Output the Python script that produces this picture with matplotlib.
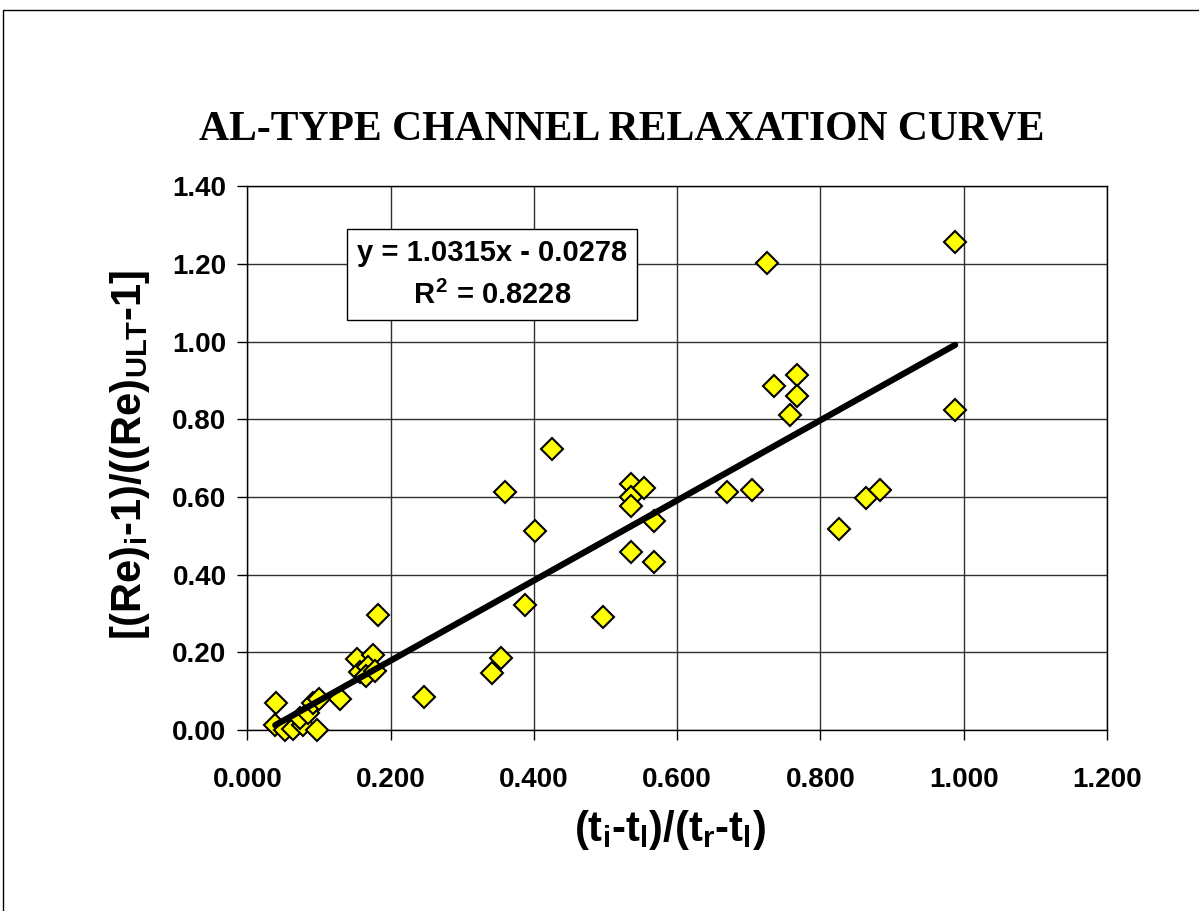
import numpy as np
import matplotlib
matplotlib.use("Agg")
import matplotlib.pyplot as plt
from matplotlib.patches import Rectangle

plt.rcParams['font.family'] = ['Liberation Sans', 'DejaVu Sans']
plt.rcParams['mathtext.fontset'] = 'custom'
plt.rcParams['mathtext.rm'] = 'Liberation Sans:bold'
plt.rcParams['mathtext.it'] = 'Liberation Sans:bold'
plt.rcParams['mathtext.bf'] = 'Liberation Sans:bold'

# data
t_ratio = [0.040, 0.039, 0.053, 0.064, 0.078, 0.074, 0.085, 0.097, 0.092, 0.100,
           0.129, 0.153, 0.175, 0.157, 0.169, 0.166, 0.178, 0.183, 0.246, 0.342,
           0.354, 0.360, 0.388, 0.402, 0.425, 0.496, 0.536, 0.536, 0.536, 0.536,
           0.554, 0.567, 0.567, 0.670, 0.704, 0.726, 0.735, 0.758, 0.767, 0.767,
           0.826, 0.863, 0.883, 0.988, 0.988]
re_ratio = [0.069, 0.012, 0.000, 0.003, 0.013, 0.031, 0.043, 0.000, 0.069, 0.080,
            0.080, 0.182, 0.193, 0.150, 0.163, 0.140, 0.152, 0.296, 0.084, 0.147,
            0.186, 0.612, 0.322, 0.512, 0.723, 0.290, 0.633, 0.600, 0.576, 0.459,
            0.622, 0.538, 0.433, 0.613, 0.619, 1.203, 0.886, 0.812, 0.914, 0.860,
            0.517, 0.596, 0.619, 1.256, 0.823]
slope = 1.0315
intercept = -0.0278
r_squared = 0.8228
xticks = [0.0, 0.2, 0.4, 0.6, 0.8, 1.0, 1.2]
yticks = [0.0, 0.2, 0.4, 0.6, 0.8, 1.0, 1.2, 1.4]

fig = plt.figure(figsize=(11.99, 9.11), dpi=100)
ax = fig.add_axes([0.2063, 0.1987, 0.717, 0.597])

ax.plot(t_ratio, re_ratio, linestyle='none', marker='D', markersize=11,
        markerfacecolor='#FFFF00', markeredgecolor='black', markeredgewidth=1.5,
        clip_on=False, zorder=3)

xfit = np.array([min(t_ratio), max(t_ratio)])
ax.plot(xfit, slope * xfit + intercept, color='black', linewidth=4.5,
        solid_capstyle='round', zorder=4)

ax.set_xlim(0, 1.2)
ax.set_ylim(0, 1.4)
ax.set_xticks(xticks)
ax.set_yticks(yticks)
ax.set_xticklabels([f"{v:.3f}" for v in xticks], fontsize=20, fontweight='bold')
ax.set_yticklabels([f"{v:.2f}" for v in yticks], fontsize=20, fontweight='bold')
ax.tick_params(axis='x', direction='out', length=7, width=1, pad=20)
ax.tick_params(axis='y', direction='out', length=7, width=1, pad=8)
ax.grid(True, color='#303030', linewidth=1)
ax.set_axisbelow(True)
for s in ax.spines.values():
    s.set_color('black')
    s.set_linewidth(1)

ax.text(0.3414, 1.172, f"y = {slope}x - {abs(intercept)}\n$R^2$ = {r_squared}",
        fontsize=21, fontweight='bold', ha='center', va='center',
        linespacing=1.6, zorder=5,
        bbox=dict(boxstyle='square,pad=0.35', facecolor='white',
                  edgecolor='black', linewidth=1))

fig.text(622 / 1199, 1 - 130 / 911, "AL-TYPE CHANNEL RELAXATION CURVE",
         family='Liberation Serif', fontsize=30, fontweight='bold',
         ha='center', va='center')
fig.text(670 / 1199, 1 - 830 / 911, r"(t$_{i}$-t$_{l}$)/(t$_{r}$-t$_{l}$)",
         fontsize=30, fontweight='bold', ha='center', va='center')
fig.text(130 / 1199, 1 - 455 / 911, r"[(Re)$_{i}$-1)/((Re)$_{ULT}$-1]",
         fontsize=30, fontweight='bold', ha='center', va='center', rotation=90)

fig.add_artist(Rectangle((3 / 1199, -0.1), 1.2, 1 - 10 / 911 + 0.1,
                         transform=fig.transFigure, fill=False,
                         edgecolor='black', linewidth=1))

fig.savefig("out.png", dpi=100)
